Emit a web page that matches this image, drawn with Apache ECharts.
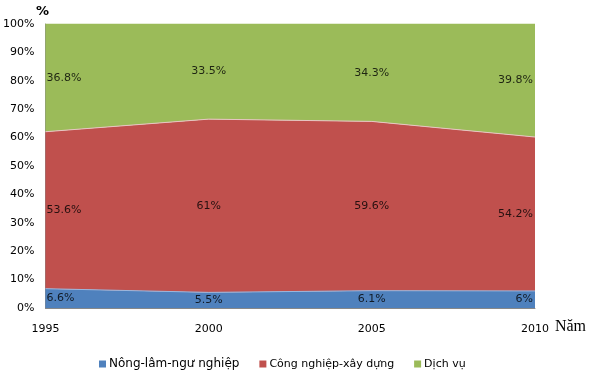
<!DOCTYPE html>
<html><head><meta charset="utf-8">
<script src="https://cdn.jsdelivr.net/npm/echarts@6/dist/echarts.min.js"></script>
<style>html,body{margin:0;padding:0;background:#fff}#c{width:592px;height:373px}</style>
</head><body><div id="c"></div>
<script>
const years = ['1995', '2000', '2005', '2010'];
const seriesNames = ['Nông-lâm-ngư nghiệp', 'Công nghiệp-xây dựng', 'Dịch vụ'];
const nongLamNgu = [6.6, 5.5, 6.1, 6];
const congNghiep = [53.6, 61, 59.6, 54.2];
const dichVu = [36.8, 33.5, 34.3, 39.8];
const yTicks = [0, 10, 20, 30, 40, 50, 60, 70, 80, 90, 100];

const raw = [nongLamNgu, congNghiep, dichVu];
const colors = ['#4F81BD', '#C0504D', '#9BBB59'];
const totals = years.map((_, i) => raw.reduce((s, a) => s + a[i], 0));
const pct = raw.map(a => a.map((v, i) => v / totals[i] * 100));

const font = 'DejaVu Sans';
const series = pct.map((arr, k) => ({
  name: seriesNames[k], type: 'line', stack: 'total', data: arr,
  symbol: 'none', areaStyle: { color: colors[k], opacity: 1 },
  lineStyle: { width: 1, color: k === 0 ? '#9ab6dd' : (k === 1 ? '#e8c4c3' : '#9BBB59') },
  itemStyle: { color: colors[k] }, z: 2
}));
// label series at band mid-points
const labelData = [];
raw.forEach((arr, k) => {
  arr.forEach((v, i) => {
    let base = 0;
    for (let j = 0; j < k; j++) base += pct[j][i];
    const mid = base + pct[k][i] / 2;
    labelData.push({
      value: [i, mid], raw: v,
      label: { align: i === 0 ? 'left' : (i === years.length - 1 ? 'right' : 'center'),
               offset: i === 0 ? [1, 0] : (i === years.length - 1 ? [-2, 0] : [0, 0]) }
    });
  });
});
series.push({
  type: 'scatter', data: labelData, symbolSize: 0, silent: true, z: 10,
  label: { show: true, position: 'inside', color: '#000', fontFamily: font, fontSize: 11,
    formatter: p => p.data.raw + '%' }
});

const chart = echarts.init(document.getElementById('c'));
chart.setOption({
  animation: false,
  grid: { left: 43, right: 57, top: 24, bottom: 65 },
  legend: {
    left: 94, top: 353, itemWidth: 7, itemHeight: 7, itemGap: 20, icon: 'rect',
    data: [
      { name: seriesNames[0], textStyle: { fontSize: 12 } },
      { name: seriesNames[1], textStyle: { fontSize: 11 } },
      { name: seriesNames[2], textStyle: { fontSize: 11 } }
    ],
    textStyle: { fontFamily: font, color: '#000', padding: [0, 0, 0, -2] }
  },
  xAxis: {
    type: 'category', data: years, boundaryGap: false,
    name: 'Năm', nameLocation: 'end', nameGap: 8,
    nameTextStyle: { fontFamily: 'Liberation Serif', fontSize: 16, color: '#000', verticalAlign: 'top', padding: [11, 0, 0, 0] },
    axisLine: { show: true, lineStyle: { color: '#888' } },
    axisTick: { show: false },
    axisLabel: { fontFamily: font, fontSize: 11, color: '#000', margin: 16 }
  },
  yAxis: {
    type: 'value', min: 0, max: 100, interval: 10,
    name: '%', nameLocation: 'end', nameGap: 6,
    nameTextStyle: { fontFamily: font, fontSize: 13, fontWeight: 'bold', color: '#000', align: 'center', padding: [0, 0, 0, -6] },
    axisLine: { show: true, lineStyle: { color: '#888' } },
    axisTick: { show: false },
    splitLine: { show: false },
    axisLabel: { fontFamily: font, fontSize: 11, color: '#000', margin: 11,
      formatter: v => yTicks.includes(v) ? v + '%' : '' }
  },
  series: series
});
</script>
</body></html>
